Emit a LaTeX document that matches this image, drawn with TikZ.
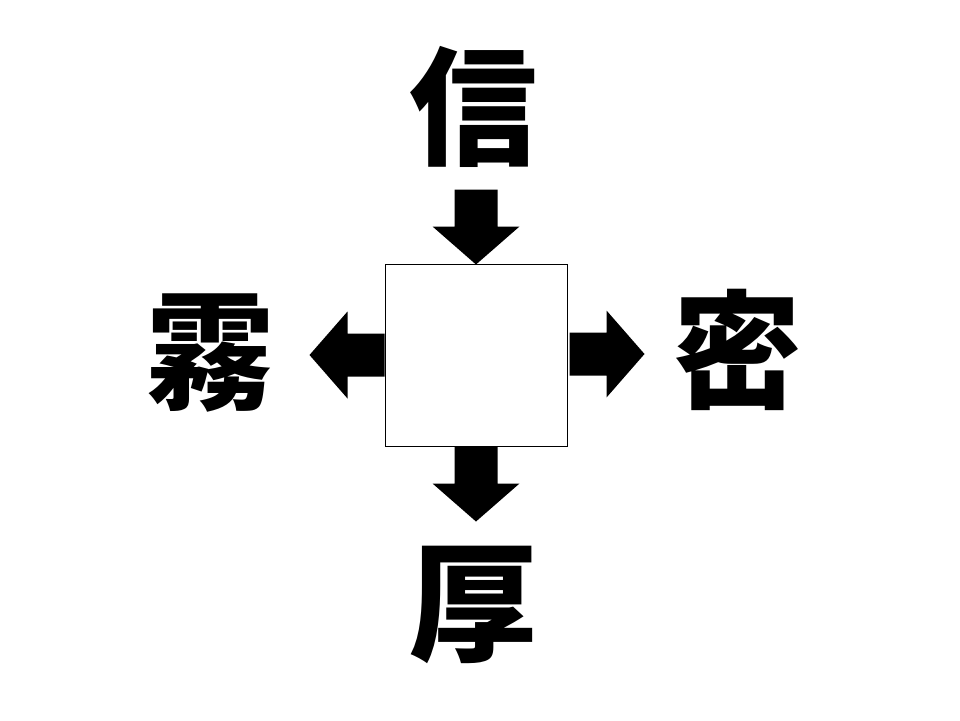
\documentclass[tikz,border=0pt]{standalone}
\usepackage{fontspec}
\newfontfamily\cjk{Noto Sans CJK JP}
\usetikzlibrary{positioning,calc}
\def\shafthw{21.5}
\def\headhw{43.5}
\def\headlen{38}
\def\arrowlen{75}
\tikzset{
  kanji/.style   = {font=\cjk\bfseries\fontsize{128}{128}\selectfont, inner sep=0pt},
  blank/.style   = {draw=black, line width=1pt, minimum size=182pt, inner sep=0pt, fill=white},
  pics/blkarrow/.style = {code={
    \fill[black] (0,-\shafthw) -- (\arrowlen-\headlen,-\shafthw) -- (\arrowlen-\headlen,-\headhw)
      -- (\arrowlen,0) -- (\arrowlen-\headlen,\headhw) -- (\arrowlen-\headlen,\shafthw)
      -- (0,\shafthw) -- cycle;
  }}
}

\begin{document}
\begin{tikzpicture}[x=1pt,y=-1pt]

\useasboundingbox (0,0) rectangle (960,720);

% -------------------- Box --------------------
\node[blank] (box) at (476,355) {};

% -------------------- Kanji --------------------
\foreach \x/\y/\name/\ch in {473/107/top/信, 210/353/left/霧, 737/350/right/密, 473/605/bottom/厚}{
  \node[kanji] (\name) at (\x,\y) {\ch};
}

% -------------------- Arrows --------------------
\pic[rotate=-90] at ($(box.north)+(0,-74)$) {blkarrow};
\pic[rotate=-90] at (box.south) {blkarrow};
\pic[rotate=180] at (box.west) {blkarrow};
\pic at ($(box.east)+(2,-1)$) {blkarrow};

\end{tikzpicture}
\end{document}
